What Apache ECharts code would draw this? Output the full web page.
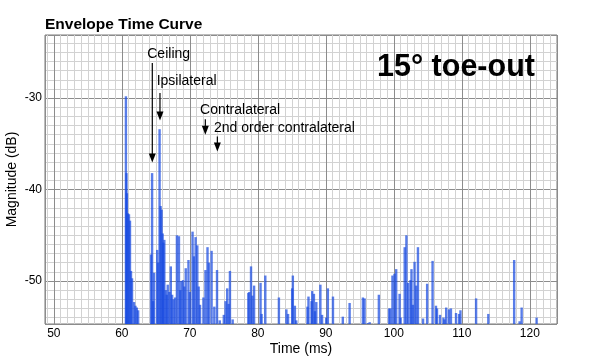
<!DOCTYPE html>
<html>
<head>
<meta charset="utf-8">
<script src="https://cdn.jsdelivr.net/npm/echarts@6/dist/echarts.min.js"></script>
<style>
html,body{margin:0;padding:0;background:#fff;}
#c{width:589px;height:363px;}
</style>
</head>
<body>
<div id="c"></div>
<script>
// ---- data ----
const times = [
  60.6, 60.68, 60.75, 60.9, 61.05, 61.2, 61.35, 61.5, 61.8, 62.0, 62.2, 62.4,
  64.3, 64.45, 64.6, 64.75, 65.2, 65.35, 65.55, 65.7, 65.85, 66.0, 66.1, 66.25,
  66.45, 66.6, 66.75, 67.0, 67.2, 67.4, 67.6, 67.85, 68.1, 68.4, 68.6, 68.75,
  69.0, 69.2, 69.4, 69.8, 70.0, 70.4, 70.6, 70.85, 71.1, 71.3, 71.5, 72.0,
  72.3, 72.6, 72.8, 73.2, 73.6, 74.0, 74.4, 75.0, 75.25, 75.5, 75.7, 75.9,
  76.3, 78.6, 78.75, 79.0, 79.2, 79.45, 80.4, 80.55, 81.1, 83.1, 84.2, 84.45,
  85.05, 85.15, 85.45, 85.65, 87.3, 87.45, 87.9, 88.0, 88.25, 88.4, 88.6, 89.2,
  89.45, 90.05, 90.3, 91.05, 92.5, 93.5, 95.45, 95.7, 96.15, 96.45, 97.8, 99.3,
  99.5, 99.8, 100.1, 100.35, 100.85, 101.0, 101.6, 101.85, 102.1, 102.45, 102.6, 102.8,
  103.05, 103.3, 103.55, 104.3, 104.9, 105.7, 106.2, 106.35, 106.8, 107.3, 107.45, 107.7,
  108.1, 108.4, 109.15, 109.6, 109.8, 112.1, 113.9, 117.7, 118.5, 118.8, 121.0
];
const magnitudes = [
  -29.8, -38.2, -40.4, -42.6, -42.7, -43.4, -48.9, -49.7, -52.3, -52.7, -52.9, -53.2,
  -47.1, -38.2, -52.2, -49.1, -46.6, -48.0, -33.4, -41.8, -42.2, -44.8, -45.8, -45.5,
  -51.0, -51.5, -50.4, -51.2, -48.4, -51.5, -52.0, -51.8, -45.0, -45.1, -51.0, -50.0,
  -49.9, -50.6, -48.6, -47.7, -51.2, -44.6, -47.3, -45.2, -46.1, -50.6, -52.6, -51.8,
  -48.8, -46.3, -48.0, -46.7, -52.8, -48.8, -54.3, -53.7, -52.2, -50.8, -52.5, -48.9,
  -54.2, -51.3, -51.2, -48.4, -51.6, -50.5, -50.2, -53.6, -49.4, -51.8, -53.1, -53.6,
  -50.8, -49.4, -52.7, -54.3, -52.8, -51.7, -52.2, -51.1, -51.4, -53.3, -52.3, -50.4,
  -53.7, -54.0, -50.8, -51.7, -53.9, -52.4, -51.8, -51.9, -54.6, -54.5, -51.5, -53.0,
  -53.0, -49.4, -49.2, -48.7, -51.4, -54.0, -46.3, -45.0, -50.2, -49.9, -48.7, -52.6,
  -47.9, -50.5, -46.3, -54.1, -50.3, -47.8, -52.7, -53.0, -53.7, -54.0, -54.2, -52.9,
  -53.1, -53.0, -53.5, -53.6, -53.2, -51.9, -53.6, -47.7, -54.4, -52.9, -54.0
];
// annotation labels and where they point (ms, dB)
const annotationLabels = ['Ceiling', 'Ipsilateral', 'Contralateral', '2nd order contralateral'];
const annotationArrowX = [64.48, 65.61, 72.28, 74.05];
const annotationTextX = [63.74, 65.12, 71.5, 73.56];
const annotationTextY = [-25.16, -28.11, -31.28, -33.25];
const annotationFromY = [-26.17, -29.45, -32.3, -34.2];
const annotationToY = [-37.04, -32.45, -34.0, -35.84];

const X_MIN = 48.7, X_MAX = 124.0;
const Y_MIN = -54.7, Y_MAX = -23.1;

const FONT = '"Liberation Sans", Arial, Helvetica, sans-serif';

const chart = echarts.init(document.getElementById('c'), null, {renderer: 'canvas'});

const barData = times.map((t, i) => [t, magnitudes[i]]);
const annData = annotationLabels.map((s, i) => ({
  name: s,
  value: [annotationArrowX[i], annotationTextX[i], annotationTextY[i], annotationFromY[i], annotationToY[i]]
}));

const option = {
  animation: false,
  backgroundColor: '#fff',
  title: [{
    text: 'Envelope Time Curve',
    left: 45, top: 17, padding: 0,
    textStyle: {fontFamily: FONT, fontSize: 15.5, fontWeight: 'bold', color: '#000'}
  }, {
    text: '15° toe-out',
    left: 377, top: 52, padding: 0,
    textStyle: {fontFamily: FONT, fontSize: 30.5, fontWeight: 'bold', color: '#000'}
  }],
  grid: {
    left: 45, right: 32, top: 35, bottom: 39,
    containLabel: false, outerBoundsMode: 'none',
    show: true, borderColor: '#7a7a7a', borderWidth: 1, backgroundColor: 'transparent'
  },
  xAxis: {
    type: 'value', min: X_MIN, max: X_MAX, minInterval: 10, maxInterval: 10,
    name: 'Time (ms)', nameLocation: 'middle', nameGap: 18, nameMoveOverlap: false,
    nameTextStyle: {fontFamily: FONT, fontSize: 14, color: '#000'},
    axisLine: {show: false}, axisTick: {show: false},
    axisLabel: {
      fontFamily: FONT, fontSize: 12, color: '#000', margin: 4,
      showMinLabel: false, showMaxLabel: false,
      formatter: v => (Math.abs(v % 10) < 1e-6 ? String(Math.round(v)) : '')
    },
    splitLine: {show: true, lineStyle: {color: '#8c8c8c', width: 1}},
    minorTick: {show: false, splitNumber: 10},
    minorSplitLine: {show: true, lineStyle: {color: '#d2d2d2', width: 1}}
  },
  yAxis: {
    type: 'value', min: Y_MIN, max: Y_MAX, minInterval: 10, maxInterval: 10,
    name: 'Magnitude (dB)', nameLocation: 'middle', nameGap: 26, nameMoveOverlap: false,
    nameTextStyle: {fontFamily: FONT, fontSize: 14, color: '#000'},
    axisLine: {show: false}, axisTick: {show: false},
    axisLabel: {
      fontFamily: FONT, fontSize: 12, color: '#000', margin: 3,
      showMinLabel: false, showMaxLabel: false,
      formatter: v => (Math.abs(v % 10) < 1e-6 ? String(Math.round(v)) : '')
    },
    splitLine: {show: true, lineStyle: {color: '#8c8c8c', width: 1}},
    minorTick: {show: false, splitNumber: 10},
    minorSplitLine: {show: true, lineStyle: {color: '#d2d2d2', width: 1}}
  },
  series: [{
    type: 'custom',
    name: 'ETC',
    clip: true,
    data: barData,
    renderItem: function (params, api) {
      const x = api.value(0), y = api.value(1);
      const top = api.coord([x, y]);
      const bot = api.coord([x, Y_MIN]);
      const w = 2.4;
      return {
        type: 'rect',
        shape: {x: top[0] - w / 2, y: top[1], width: w, height: bot[1] - top[1]},
        style: {fill: 'rgba(25,75,225,0.72)'}
      };
    }
  }, {
    type: 'custom',
    name: 'annotations',
    clip: false,
    data: annData,
    silent: true,
    renderItem: function (params, api) {
      const ax = api.value(0), tx = api.value(1), ty = api.value(2), fy = api.value(3), toy = api.value(4);
      const tp = api.coord([tx, ty]);
      const p1 = api.coord([ax, fy]);
      const p2 = api.coord([ax, toy]);
      const hw = 3.5, hh = 9;
      return {
        type: 'group',
        children: [{
          type: 'text',
          style: {
            text: annotationLabels[params.dataIndex], x: tp[0], y: tp[1],
            fill: '#000', font: '14px ' + FONT, align: 'left', verticalAlign: 'middle'
          }
        }, {
          type: 'line',
          shape: {x1: p1[0], y1: p1[1], x2: p2[0], y2: p2[1] - hh + 1},
          style: {stroke: '#000', lineWidth: 1.2}
        }, {
          type: 'polygon',
          shape: {points: [[p2[0] - hw, p2[1] - hh], [p2[0] + hw, p2[1] - hh], [p2[0], p2[1]]]},
          style: {fill: '#000'}
        }]
      };
    }
  }]
};
chart.setOption(option);
</script>
</body>
</html>
